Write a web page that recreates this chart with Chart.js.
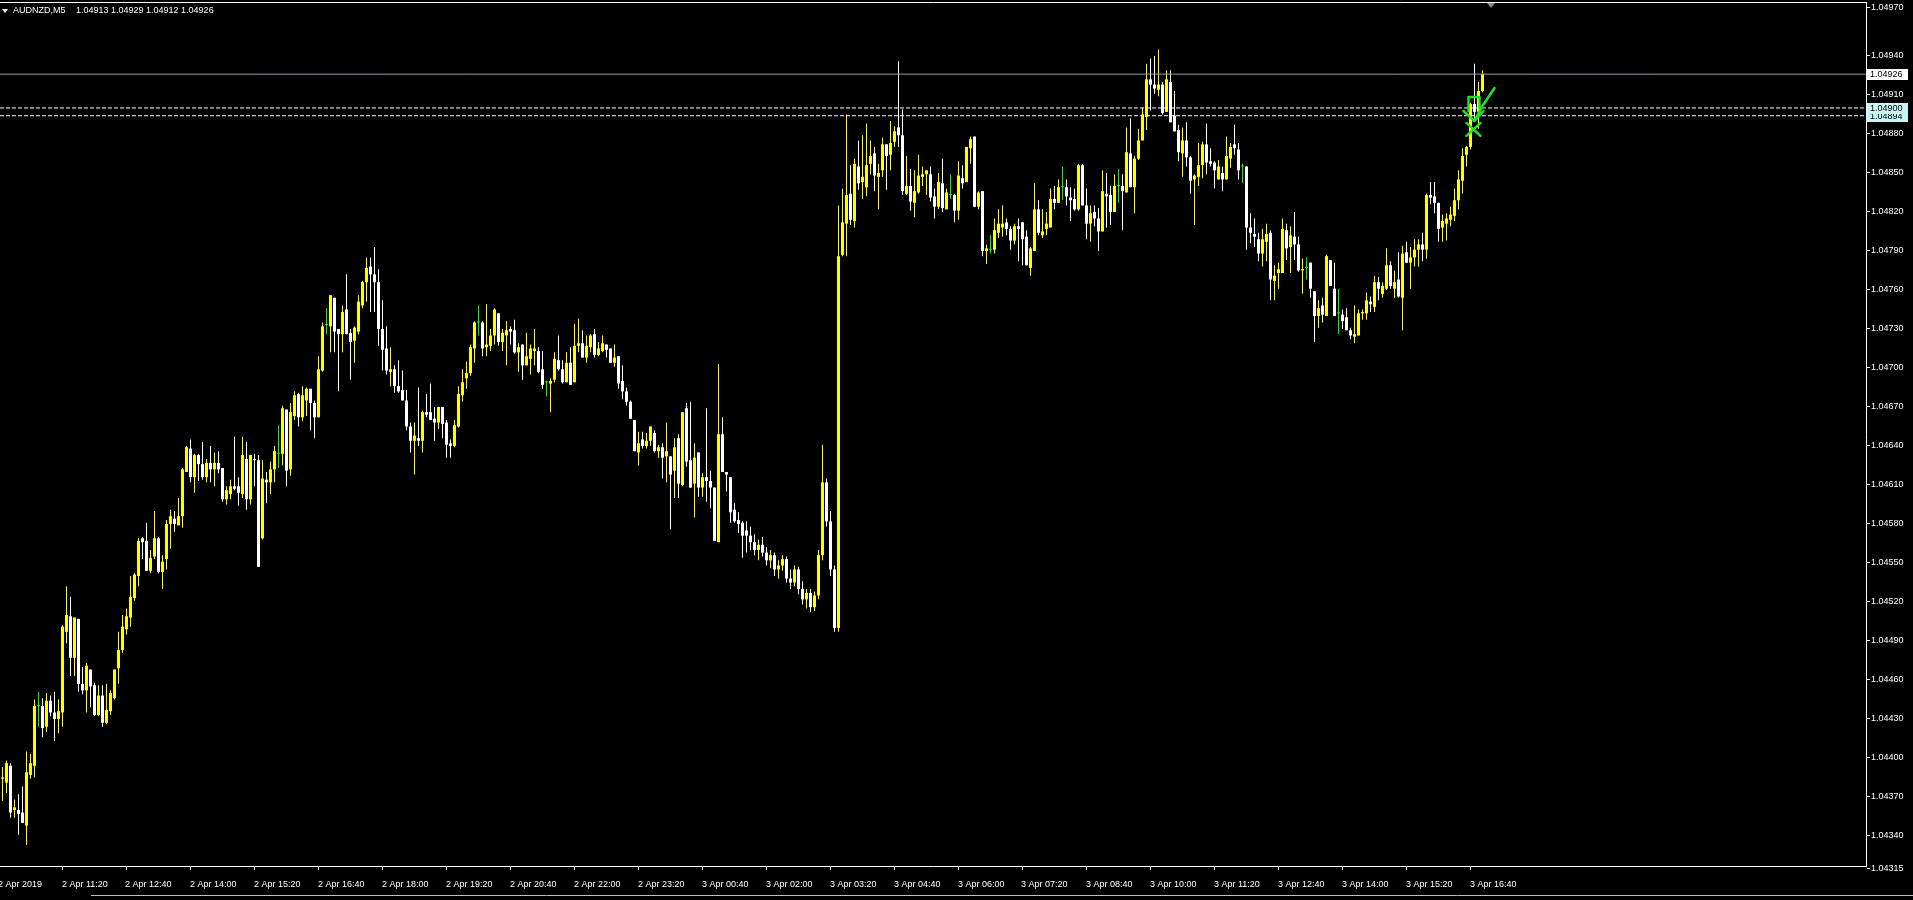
<!DOCTYPE html>
<html><head><meta charset="utf-8">
<style>html,body{margin:0;padding:0;background:#000;overflow:hidden}canvas{display:block}</style>
<script src="https://cdn.jsdelivr.net/npm/chart.js@4/dist/chart.umd.min.js"></script>
</head><body>
<canvas id="c" width="1913" height="900"></canvas>
<script>
const symbolName = 'AUDNZD,M5';
const lastQuote = ['1.04913', '1.04929', '1.04912', '1.04926'];

const open = [
1.04384,1.04381,1.04394,1.04360,1.04360,1.04358,1.04348,1.04387,1.04394,1.04440,
1.04440,1.04424,1.04444,1.04435,1.04430,1.04435,1.04497,1.04509,1.04477,1.04507,
1.04457,1.04452,1.04468,1.04456,1.04433,1.04448,1.04427,1.04436,1.04446,1.04469,
1.04483,1.04499,1.04508,1.04523,1.04540,1.04569,1.04567,1.04544,1.04555,1.04569,
1.04543,1.04553,1.04580,1.04584,1.04579,1.04586,1.04620,1.04638,1.04616,1.04633,
1.04626,1.04616,1.04627,1.04622,1.04627,1.04623,1.04599,1.04603,1.04609,1.04609,
1.04603,1.04630,1.04599,1.04630,1.04629,1.04569,1.04614,1.04612,1.04622,1.04634,
1.04634,1.04668,1.04622,1.04663,1.04680,1.04662,1.04675,1.04684,1.04673,1.04662,
1.04698,1.04733,1.04732,1.04754,1.04730,1.04726,1.04745,1.04727,1.04721,1.04728,
1.04748,1.04766,1.04778,1.04772,1.04766,1.04730,1.04715,1.04697,1.04699,1.04686,
1.04683,1.04675,1.04655,1.04644,1.04646,1.04644,1.04666,1.04666,1.04661,1.04658,
1.04670,1.04658,1.04642,1.04640,1.04655,1.04679,1.04692,1.04696,1.04715,1.04735,
1.04735,1.04716,1.04717,1.04725,1.04742,1.04720,1.04725,1.04730,1.04729,1.04712,
1.04718,1.04702,1.04707,1.04713,1.04713,1.04699,1.04689,1.04688,1.04691,1.04706,
1.04699,1.04689,1.04704,1.04689,1.04717,1.04719,1.04708,1.04716,1.04726,1.04710,
1.04713,1.04718,1.04715,1.04704,1.04709,1.04690,1.04682,1.04674,1.04660,1.04635,
1.04645,1.04640,1.04644,1.04650,1.04636,1.04639,1.04632,1.04632,1.04621,1.04646,
1.04610,1.04669,1.04629,1.04611,1.04635,1.04608,1.04616,1.04613,1.04608,1.04566,
1.04649,1.04620,1.04616,1.04591,1.04583,1.04581,1.04575,1.04571,1.04566,1.04560,
1.04564,1.04558,1.04552,1.04556,1.04545,1.04548,1.04553,1.04538,1.04535,1.04545,
1.04530,1.04522,1.04527,1.04516,1.04525,1.04556,1.04612,1.04582,1.04545,1.04500,
1.04787,1.04811,1.04834,1.04813,1.04855,1.04843,1.04839,1.04857,1.04865,1.04847,
1.04852,1.04872,1.04864,1.04874,1.04885,1.04879,1.04834,1.04840,1.04827,1.04835,
1.04847,1.04849,1.04849,1.04832,1.04824,1.04842,1.04822,1.04833,1.04833,1.04821,
1.04846,1.04843,1.04869,1.04878,1.04824,1.04836,1.04790,1.04791,1.04791,1.04804,
1.04808,1.04812,1.04807,1.04798,1.04809,1.04812,1.04801,1.04777,1.04790,1.04822,
1.04802,1.04807,1.04808,1.04830,1.04827,1.04839,1.04839,1.04831,1.04830,1.04822,
1.04856,1.04825,1.04811,1.04820,1.04815,1.04805,1.04834,1.04833,1.04820,1.04840,
1.04840,1.04835,1.04865,1.04839,1.04861,1.04875,1.04893,1.04922,1.04918,1.04914,
1.04918,1.04897,1.04920,1.04894,1.04883,1.04865,1.04875,1.04862,1.04845,1.04847,
1.04856,1.04872,1.04859,1.04858,1.04845,1.04850,1.04845,1.04861,1.04872,1.04868,
1.04855,1.04855,1.04808,1.04803,1.04799,1.04788,1.04797,1.04804,1.04767,1.04773,
1.04773,1.04806,1.04793,1.04801,1.04795,1.04775,1.04777,1.04781,1.04759,1.04740,
1.04748,1.04740,1.04783,1.04761,1.04742,1.04741,1.04739,1.04729,1.04724,1.04725,
1.04742,1.04742,1.04751,1.04747,1.04766,1.04757,1.04761,1.04779,1.04761,1.04768,
1.04754,1.04789,1.04781,1.04785,1.04791,1.04795,1.04791,1.04833,1.04832,1.04827,
1.04808,1.04811,1.04814,1.04817,1.04829,1.04844,1.04864,1.04870,1.04903,1.04897,
1.04913];
const high = [
1.04393,1.04398,1.04396,1.04368,1.04372,1.04378,1.04405,1.04403,1.04445,1.04451,
1.04446,1.04450,1.04448,1.04451,1.04445,1.04502,1.04532,1.04524,1.04508,1.04507,
1.04470,1.04473,1.04468,1.04458,1.04456,1.04456,1.04457,1.04452,1.04468,1.04497,
1.04510,1.04515,1.04540,1.04542,1.04569,1.04570,1.04581,1.04560,1.04590,1.04570,
1.04556,1.04583,1.04591,1.04590,1.04600,1.04623,1.04640,1.04645,1.04634,1.04634,
1.04643,1.04630,1.04640,1.04635,1.04636,1.04623,1.04609,1.04614,1.04647,1.04616,
1.04647,1.04643,1.04633,1.04634,1.04633,1.04629,1.04620,1.04628,1.04640,1.04656,
1.04671,1.04668,1.04673,1.04682,1.04681,1.04686,1.04685,1.04684,1.04675,1.04709,
1.04735,1.04746,1.04756,1.04754,1.04730,1.04748,1.04772,1.04730,1.04732,1.04756,
1.04767,1.04785,1.04785,1.04793,1.04776,1.04752,1.04732,1.04716,1.04702,1.04706,
1.04698,1.04683,1.04658,1.04658,1.04685,1.04667,1.04680,1.04688,1.04670,1.04670,
1.04670,1.04660,1.04645,1.04660,1.04686,1.04699,1.04705,1.04718,1.04736,1.04748,
1.04736,1.04749,1.04730,1.04746,1.04742,1.04730,1.04736,1.04732,1.04737,1.04719,
1.04718,1.04727,1.04718,1.04730,1.04716,1.04713,1.04690,1.04692,1.04712,1.04725,
1.04706,1.04712,1.04716,1.04734,1.04738,1.04729,1.04725,1.04726,1.04730,1.04720,
1.04725,1.04718,1.04715,1.04718,1.04709,1.04702,1.04685,1.04675,1.04660,1.04651,
1.04651,1.04650,1.04655,1.04652,1.04641,1.04642,1.04658,1.04632,1.04646,1.04649,
1.04666,1.04673,1.04674,1.04642,1.04635,1.04619,1.04669,1.04621,1.04608,1.04703,
1.04662,1.04620,1.04616,1.04596,1.04589,1.04582,1.04582,1.04578,1.04572,1.04568,
1.04570,1.04562,1.04560,1.04558,1.04552,1.04556,1.04555,1.04545,1.04548,1.04547,
1.04536,1.04530,1.04530,1.04528,1.04560,1.04641,1.04615,1.04590,1.04548,1.04825,
1.04838,1.04895,1.04856,1.04861,1.04875,1.04879,1.04888,1.04875,1.04870,1.04857,
1.04877,1.04872,1.04890,1.04886,1.04936,1.04899,1.04863,1.04853,1.04852,1.04864,
1.04855,1.04852,1.04855,1.04838,1.04850,1.04861,1.04838,1.04849,1.04834,1.04859,
1.04856,1.04870,1.04878,1.04878,1.04836,1.04836,1.04795,1.04802,1.04815,1.04822,
1.04825,1.04815,1.04809,1.04811,1.04815,1.04812,1.04806,1.04793,1.04842,1.04829,
1.04822,1.04820,1.04838,1.04840,1.04845,1.04855,1.04845,1.04839,1.04838,1.04857,
1.04857,1.04838,1.04825,1.04825,1.04823,1.04852,1.04850,1.04840,1.04849,1.04853,
1.04849,1.04885,1.04892,1.04863,1.04884,1.04900,1.04934,1.04938,1.04940,1.04945,
1.04920,1.04929,1.04929,1.04913,1.04887,1.04885,1.04889,1.04863,1.04849,1.04873,
1.04874,1.04888,1.04869,1.04859,1.04860,1.04855,1.04878,1.04873,1.04887,1.04873,
1.04857,1.04855,1.04819,1.04815,1.04804,1.04807,1.04811,1.04806,1.04779,1.04781,
1.04815,1.04811,1.04809,1.04820,1.04801,1.04784,1.04785,1.04781,1.04759,1.04752,
1.04754,1.04787,1.04783,1.04781,1.04761,1.04745,1.04746,1.04731,1.04748,1.04745,
1.04745,1.04758,1.04755,1.04771,1.04770,1.04766,1.04792,1.04782,1.04775,1.04789,
1.04794,1.04797,1.04793,1.04799,1.04799,1.04804,1.04834,1.04843,1.04843,1.04827,
1.04818,1.04819,1.04824,1.04838,1.04852,1.04869,1.04871,1.04904,1.04934,1.04920,
1.04929];
const low = [
1.04367,1.04373,1.04354,1.04354,1.04341,1.04350,1.04333,1.04384,1.04385,1.04424,
1.04416,1.04420,1.04432,1.04413,1.04419,1.04424,1.04488,1.04463,1.04463,1.04451,
1.04449,1.04435,1.04439,1.04432,1.04432,1.04424,1.04426,1.04433,1.04445,1.04457,
1.04481,1.04495,1.04501,1.04521,1.04532,1.04553,1.04544,1.04542,1.04553,1.04542,
1.04530,1.04545,1.04561,1.04574,1.04579,1.04577,1.04620,1.04612,1.04604,1.04613,
1.04614,1.04612,1.04612,1.04609,1.04619,1.04597,1.04595,1.04599,1.04606,1.04594,
1.04600,1.04591,1.04595,1.04609,1.04547,1.04568,1.04596,1.04603,1.04612,1.04623,
1.04625,1.04609,1.04617,1.04660,1.04655,1.04659,1.04663,1.04652,1.04646,1.04662,
1.04697,1.04726,1.04712,1.04712,1.04682,1.04712,1.04726,1.04691,1.04704,1.04726,
1.04746,1.04751,1.04743,1.04743,1.04717,1.04698,1.04695,1.04686,1.04681,1.04681,
1.04675,1.04652,1.04635,1.04618,1.04640,1.04635,1.04662,1.04660,1.04644,1.04653,
1.04646,1.04631,1.04631,1.04639,1.04654,1.04674,1.04684,1.04694,1.04704,1.04725,
1.04709,1.04709,1.04713,1.04718,1.04717,1.04713,1.04702,1.04718,1.04711,1.04697,
1.04691,1.04702,1.04695,1.04702,1.04696,1.04684,1.04678,1.04666,1.04689,1.04698,
1.04688,1.04689,1.04687,1.04689,1.04712,1.04708,1.04704,1.04712,1.04708,1.04709,
1.04712,1.04708,1.04704,1.04701,1.04684,1.04676,1.04671,1.04661,1.04636,1.04625,
1.04638,1.04638,1.04640,1.04635,1.04631,1.04615,1.04612,1.04576,1.04600,1.04600,
1.04609,1.04624,1.04608,1.04585,1.04601,1.04601,1.04597,1.04592,1.04567,1.04566,
1.04620,1.04605,1.04581,1.04581,1.04573,1.04554,1.04558,1.04560,1.04556,1.04552,
1.04555,1.04548,1.04546,1.04540,1.04538,1.04544,1.04535,1.04530,1.04532,1.04526,
1.04518,1.04515,1.04512,1.04513,1.04522,1.04552,1.04578,1.04540,1.04497,1.04497,
1.04786,1.04786,1.04810,1.04808,1.04837,1.04830,1.04832,1.04849,1.04836,1.04822,
1.04847,1.04837,1.04852,1.04870,1.04870,1.04833,1.04833,1.04821,1.04816,1.04834,
1.04840,1.04833,1.04828,1.04815,1.04822,1.04820,1.04822,1.04830,1.04812,1.04814,
1.04838,1.04843,1.04857,1.04824,1.04822,1.04786,1.04780,1.04788,1.04788,1.04800,
1.04801,1.04802,1.04791,1.04795,1.04782,1.04779,1.04779,1.04771,1.04790,1.04802,
1.04800,1.04802,1.04808,1.04822,1.04827,1.04829,1.04825,1.04813,1.04821,1.04821,
1.04825,1.04799,1.04797,1.04809,1.04790,1.04805,1.04808,1.04810,1.04820,1.04827,
1.04806,1.04835,1.04839,1.04819,1.04860,1.04875,1.04883,1.04898,1.04911,1.04909,
1.04895,1.04897,1.04889,1.04882,1.04859,1.04847,1.04855,1.04834,1.04810,1.04840,
1.04846,1.04849,1.04855,1.04838,1.04845,1.04836,1.04845,1.04854,1.04864,1.04845,
1.04842,1.04791,1.04796,1.04793,1.04782,1.04778,1.04782,1.04752,1.04752,1.04761,
1.04773,1.04783,1.04773,1.04783,1.04774,1.04757,1.04768,1.04754,1.04720,1.04731,
1.04735,1.04740,1.04763,1.04740,1.04726,1.04730,1.04729,1.04722,1.04719,1.04725,
1.04737,1.04737,1.04743,1.04743,1.04752,1.04754,1.04760,1.04761,1.04754,1.04754,
1.04729,1.04781,1.04761,1.04778,1.04778,1.04782,1.04784,1.04826,1.04819,1.04797,
1.04797,1.04798,1.04809,1.04813,1.04822,1.04834,1.04855,1.04868,1.04891,1.04884,
1.04912];
const close = [
1.04385,1.04396,1.04358,1.04362,1.04357,1.04350,1.04389,1.04396,1.04440,1.04440,
1.04423,1.04444,1.04435,1.04430,1.04436,1.04501,1.04510,1.04477,1.04508,1.04457,
1.04452,1.04471,1.04455,1.04433,1.04448,1.04427,1.04437,1.04450,1.04468,1.04483,
1.04501,1.04509,1.04524,1.04541,1.04567,1.04566,1.04544,1.04554,1.04569,1.04543,
1.04551,1.04580,1.04586,1.04580,1.04586,1.04622,1.04639,1.04616,1.04633,1.04626,
1.04616,1.04627,1.04622,1.04627,1.04622,1.04599,1.04606,1.04609,1.04607,1.04604,
1.04633,1.04599,1.04633,1.04629,1.04547,1.04615,1.04612,1.04622,1.04636,1.04634,
1.04669,1.04621,1.04666,1.04679,1.04662,1.04679,1.04684,1.04673,1.04662,1.04699,
1.04732,1.04733,1.04756,1.04728,1.04726,1.04743,1.04726,1.04720,1.04731,1.04751,
1.04766,1.04777,1.04772,1.04766,1.04730,1.04714,1.04698,1.04699,1.04686,1.04682,
1.04675,1.04655,1.04644,1.04648,1.04644,1.04666,1.04664,1.04660,1.04658,1.04670,
1.04657,1.04641,1.04640,1.04656,1.04680,1.04689,1.04696,1.04716,1.04735,1.04735,
1.04715,1.04718,1.04725,1.04745,1.04720,1.04727,1.04729,1.04728,1.04712,1.04716,
1.04702,1.04709,1.04715,1.04715,1.04697,1.04687,1.04689,1.04690,1.04707,1.04699,
1.04689,1.04704,1.04687,1.04717,1.04719,1.04708,1.04717,1.04725,1.04710,1.04715,
1.04719,1.04714,1.04704,1.04708,1.04688,1.04682,1.04674,1.04661,1.04636,1.04642,
1.04640,1.04644,1.04655,1.04636,1.04639,1.04631,1.04636,1.04618,1.04639,1.04611,
1.04666,1.04628,1.04608,1.04631,1.04608,1.04616,1.04613,1.04608,1.04567,1.04649,
1.04620,1.04618,1.04589,1.04582,1.04580,1.04571,1.04571,1.04566,1.04560,1.04564,
1.04558,1.04552,1.04556,1.04545,1.04548,1.04553,1.04538,1.04535,1.04545,1.04530,
1.04522,1.04527,1.04516,1.04525,1.04556,1.04612,1.04582,1.04545,1.04500,1.04786,
1.04812,1.04833,1.04814,1.04857,1.04842,1.04847,1.04856,1.04863,1.04848,1.04850,
1.04872,1.04863,1.04873,1.04882,1.04879,1.04836,1.04840,1.04828,1.04836,1.04848,
1.04849,1.04852,1.04831,1.04824,1.04843,1.04823,1.04835,1.04833,1.04821,1.04848,
1.04842,1.04870,1.04876,1.04824,1.04835,1.04790,1.04792,1.04791,1.04806,1.04811,
1.04811,1.04807,1.04798,1.04809,1.04807,1.04799,1.04779,1.04792,1.04822,1.04804,
1.04805,1.04811,1.04830,1.04827,1.04839,1.04839,1.04832,1.04829,1.04822,1.04856,
1.04825,1.04811,1.04819,1.04815,1.04805,1.04836,1.04832,1.04820,1.04840,1.04840,
1.04836,1.04866,1.04839,1.04861,1.04875,1.04895,1.04922,1.04918,1.04915,1.04918,
1.04896,1.04922,1.04889,1.04882,1.04866,1.04875,1.04862,1.04844,1.04848,1.04856,
1.04872,1.04858,1.04857,1.04852,1.04855,1.04845,1.04863,1.04870,1.04869,1.04852,
1.04855,1.04808,1.04804,1.04801,1.04788,1.04799,1.04803,1.04768,1.04771,1.04776,
1.04807,1.04792,1.04802,1.04795,1.04775,1.04776,1.04777,1.04761,1.04740,1.04746,
1.04741,1.04786,1.04763,1.04740,1.04742,1.04736,1.04729,1.04725,1.04726,1.04742,
1.04743,1.04752,1.04749,1.04766,1.04761,1.04763,1.04779,1.04763,1.04766,1.04755,
1.04788,1.04781,1.04785,1.04791,1.04795,1.04791,1.04833,1.04831,1.04827,1.04807,
1.04813,1.04815,1.04818,1.04829,1.04845,1.04863,1.04870,1.04903,1.04897,1.04913,
1.04926];

// time axis: tick positions (bar index) and their labels
const xTickIdx = [-1, 15, 31, 47, 63, 79, 95, 111, 127, 143, 159, 175, 191, 207, 223, 239, 255, 271, 287, 303, 319, 335, 351, 367];
const xTickLabels = ['2 Apr 2019', '2 Apr 11:20', '2 Apr 12:40', '2 Apr 14:00', '2 Apr 15:20', '2 Apr 16:40', '2 Apr 18:00', '2 Apr 19:20', '2 Apr 20:40', '2 Apr 22:00', '2 Apr 23:20', '3 Apr 00:40', '3 Apr 02:00', '3 Apr 03:20', '3 Apr 04:40', '3 Apr 06:00', '3 Apr 07:20', '3 Apr 08:40', '3 Apr 10:00', '3 Apr 11:20', '3 Apr 12:40', '3 Apr 14:00', '3 Apr 15:20', '3 Apr 16:40'];
// price axis ticks (the top one is the window-top label)
const yTickValues = [1.04315, 1.04340, 1.04370, 1.04400, 1.04430, 1.04460, 1.04490, 1.04520, 1.04550, 1.04580, 1.04610, 1.04640, 1.04670, 1.04700, 1.04730, 1.04760, 1.04790, 1.04820, 1.04850, 1.04880, 1.04910, 1.04940, 1.049775];
const yTickLabels = ['1.04315', '1.04340', '1.04370', '1.04400', '1.04430', '1.04460', '1.04490', '1.04520', '1.04550', '1.04580', '1.04610', '1.04640', '1.04670', '1.04700', '1.04730', '1.04760', '1.04790', '1.04820', '1.04850', '1.04880', '1.04910', '1.04940', '1.04970'];
// horizontal price levels
const levelPrices = [1.04926, 1.04900, 1.04894];
const levelColors = ['rgb(148,158,172)', '#ffffff', '#ffffff'];
const levelDashes = [[], [4, 2], [4, 2]];
const levelBoxColors = ['#ffffff', '#c9f3f3', '#c9f3f3'];
// hand-drawn marks (bar index, price)
const markIdx = 368;
const markPrice = 1.04900;

const idx = close.map((_, i) => i);
const BULL = '#ffff00', BEAR = '#ffffff', DOJI = '#00ff00';
const barColors = idx.map(i => close[i] > open[i] ? BULL : (close[i] < open[i] ? BEAR : DOJI));

const X_MIN = -0.625, X_MAX = 465.875;
const Y_MIN = 1.043169, Y_MAX = 1.049815;
const FONT = "9px 'Liberation Sans', Arial, sans-serif";

Chart.defaults.font.family = "'Liberation Sans', Arial, sans-serif";
Chart.defaults.font.size = 9;
Chart.defaults.color = '#ffffff';

const bgPlugin = {
  id: 'bg',
  beforeDraw(chart) {
    const ctx = chart.ctx;
    ctx.save();
    ctx.fillStyle = '#000';
    ctx.fillRect(0, 0, chart.width, chart.height);
    ctx.restore();
  }
};

const decoPlugin = {
  id: 'deco',
  afterDraw(chart) {
    const ctx = chart.ctx;
    const a = chart.chartArea;
    const xs = chart.scales.x, ys = chart.scales.y;
    ctx.save();
    ctx.strokeStyle = '#ffffff';
    ctx.lineWidth = 1;
    ctx.beginPath();
    ctx.moveTo(0, Math.round(a.top) + 0.5);
    ctx.lineTo(Math.round(a.right) + 1, Math.round(a.top) + 0.5);
    ctx.stroke();
    ctx.strokeStyle = '#bfbfbf';
    ctx.beginPath();
    ctx.moveTo(91, 895.5); ctx.lineTo(chart.width, 895.5);
    ctx.stroke();
    ctx.font = FONT;
    ctx.fillStyle = '#ffffff';
    ctx.textBaseline = 'middle';
    ctx.textAlign = 'left';
    xTickIdx.forEach((v, k) => {
      ctx.fillText(xTickLabels[k], Math.round(xs.getPixelForValue(v)) - 1, a.bottom + 19);
    });
    ctx.beginPath();
    ctx.moveTo(2, 9); ctx.lineTo(8, 9); ctx.lineTo(5, 13); ctx.closePath();
    ctx.fill();
    ctx.fillText(symbolName, 13, 11);
    ctx.fillText(lastQuote.join(' '), 76, 11);
    const sx = Math.round(xs.getPixelForValue(close.length + 1));
    ctx.fillStyle = '#8a8a8a';
    ctx.beginPath();
    ctx.moveTo(sx - 4, a.top + 1); ctx.lineTo(sx + 4, a.top + 1); ctx.lineTo(sx, a.top + 6); ctx.closePath();
    ctx.fill();
    for (let k = levelPrices.length - 1; k >= 0; k--) {
      const py = Math.round(ys.getPixelForValue(levelPrices[k]));
      ctx.fillStyle = levelBoxColors[k];
      ctx.fillRect(Math.round(a.right) + 1, py - 5, 41, 11);
      ctx.fillStyle = '#000';
      ctx.fillText(levelPrices[k].toFixed(5), Math.round(a.right) + 4, py + 0.5);
    }
    const mx = xs.getPixelForValue(markIdx), my = ys.getPixelForValue(markPrice);
    ctx.strokeStyle = '#22e022';
    ctx.lineWidth = 2.5;
    ctx.lineJoin = 'round';
    ctx.lineCap = 'round';
    ctx.beginPath();
    ctx.moveTo(mx - 6, my + 3); ctx.lineTo(mx - 6, my - 11); ctx.lineTo(mx + 5, my - 11); ctx.lineTo(mx + 5, my);
    ctx.moveTo(mx - 11, my + 3); ctx.lineTo(mx, my + 13); ctx.lineTo(mx + 9, my + 3);
    ctx.moveTo(mx, my + 13); ctx.lineTo(mx + 8, my - 2); ctx.lineTo(mx + 20, my - 20);
    ctx.moveTo(mx - 8, my + 15); ctx.lineTo(mx + 6, my + 28);
    ctx.moveTo(mx - 8, my + 28); ctx.lineTo(mx + 6, my + 15);
    ctx.stroke();
    ctx.restore();
  }
};

const levelDatasets = levelPrices.map((p, k) => ({
  type: 'line',
  data: [{x: X_MIN, y: p}, {x: X_MAX, y: p}],
  borderColor: levelColors[k],
  borderDash: levelDashes[k],
  borderWidth: 1,
  pointRadius: 0,
  fill: false,
  order: 0
}));

new Chart(document.getElementById('c'), {
  type: 'bar',
  data: {
    datasets: [
      {
        label: 'wick',
        data: idx.map(i => ({x: i, y: [low[i], high[i]]})),
        backgroundColor: barColors,
        barThickness: 1,
        grouped: false,
        minBarLength: 1,
        inflateAmount: 0,
        borderWidth: 0,
        order: 2
      },
      {
        label: 'body',
        data: idx.map(i => ({x: i, y: [open[i], close[i]]})),
        backgroundColor: barColors,
        barThickness: 3,
        grouped: false,
        minBarLength: 1,
        inflateAmount: 0,
        borderWidth: 0,
        order: 1
      },
      ...levelDatasets
    ]
  },
  options: {
    responsive: false,
    devicePixelRatio: 1,
    animation: false,
    events: [],
    layout: { padding: { top: 2, left: 0, right: 0, bottom: 0 }, autoPadding: false },
    plugins: { legend: { display: false }, tooltip: { enabled: false }, title: { display: false } },
    scales: {
      x: {
        type: 'linear',
        position: 'bottom',
        offset: false,
        min: X_MIN,
        max: X_MAX,
        afterBuildTicks: s => { s.ticks = xTickIdx.map(v => ({value: v})); },
        afterFit: s => { s.height = 34; s.paddingLeft = 0; s.paddingRight = 0; },
        grid: { drawOnChartArea: false, drawTicks: true, tickLength: 4, color: '#ffffff', offset: false },
        border: { display: true, color: '#ffffff' },
        ticks: { display: false, autoSkip: false, maxRotation: 0, minRotation: 0, padding: 0 }
      },
      y: {
        type: 'linear',
        position: 'right',
        min: Y_MIN,
        max: Y_MAX,
        afterBuildTicks: s => { s.ticks = yTickValues.map(v => ({value: v})); },
        afterFit: s => { s.width = 47; s.paddingTop = 0; s.paddingBottom = 0; },
        grid: { drawOnChartArea: false, drawTicks: true, tickLength: 4, color: '#ffffff' },
        border: { display: true, color: '#ffffff' },
        ticks: {
          autoSkip: false, padding: 1, color: '#ffffff',
          callback: (v, i) => yTickLabels[i]
        }
      }
    }
  },
  plugins: [bgPlugin, decoPlugin]
});
</script>
</body></html>
